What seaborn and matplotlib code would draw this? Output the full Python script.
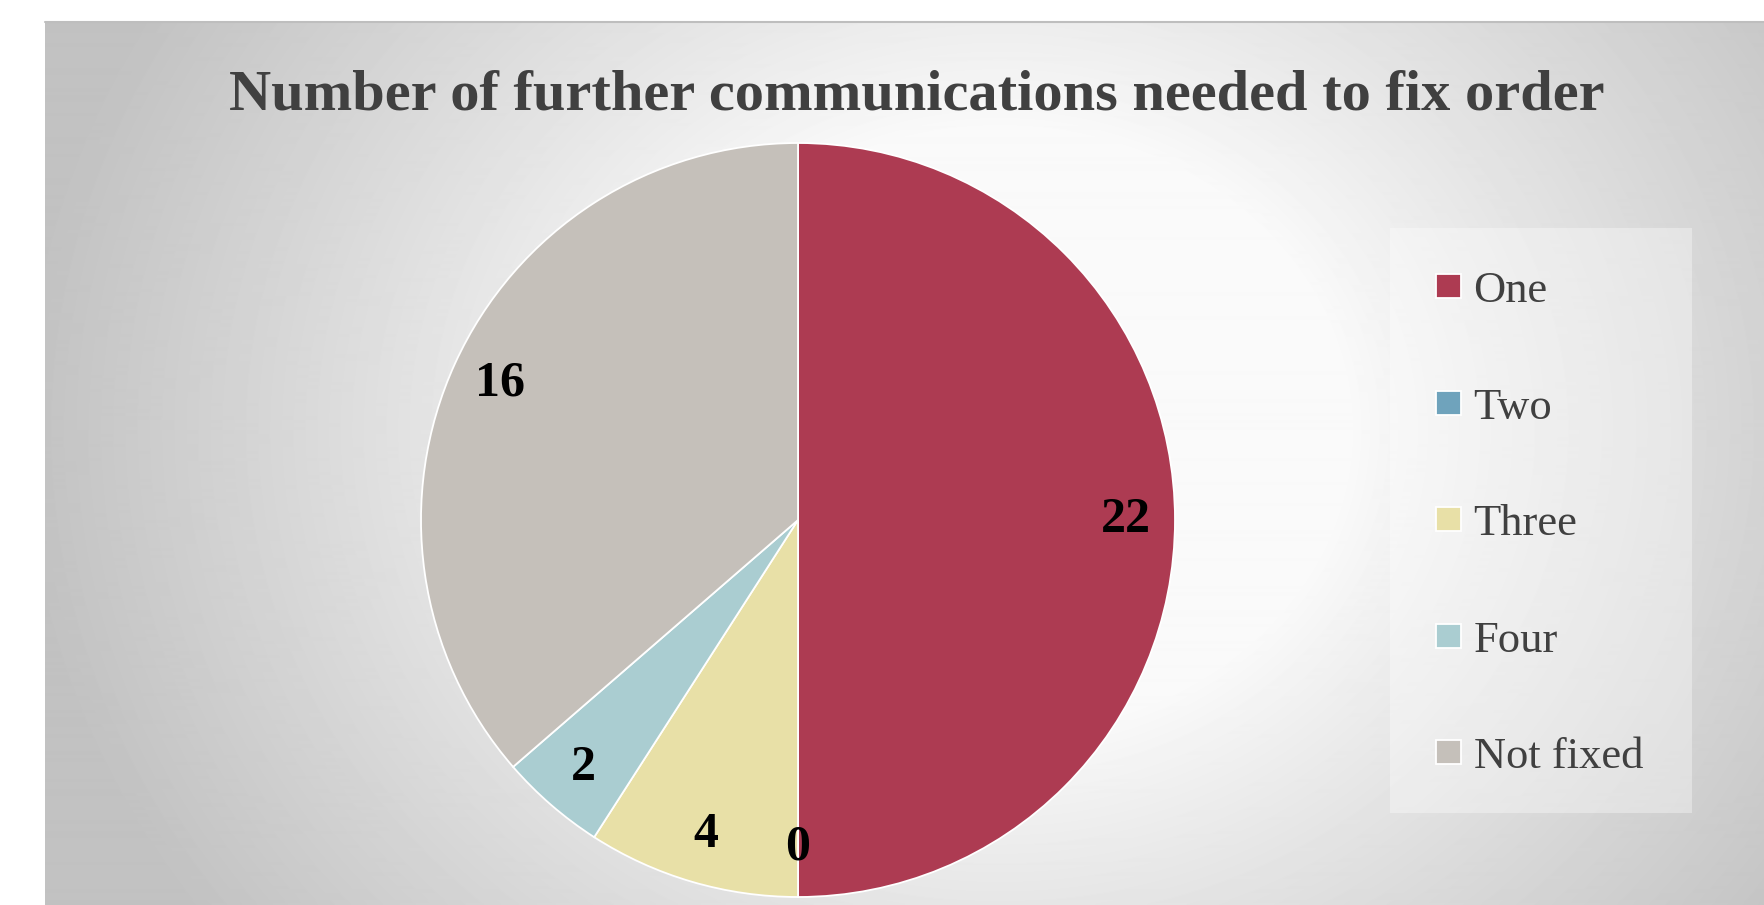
import numpy as np
import matplotlib
matplotlib.use("Agg")
import matplotlib.pyplot as plt
import seaborn as sns
from matplotlib.patches import Rectangle

# ---- data ----
categories = ["One", "Two", "Three", "Four", "Not fixed"]
counts = [22, 0, 4, 2, 16]
title = "Number of further communications needed to fix order"
slice_colors = ["#AD3B52", "#6FA3BC", "#E8E0A7", "#AACDD1", "#C5C0BA"]

sns.set_theme(style="white")
plt.rcParams["font.family"] = ["Liberation Serif", "DejaVu Serif"]

W, H = 1765, 905
fig = plt.figure(figsize=(W / 100, H / 100), dpi=100)
fig.patch.set_facecolor("white")

# ---- background gradient ----
bx0, by0 = 45, 22
bg = fig.add_axes([bx0 / W, 0, 1 - bx0 / W, (H - by0) / H])
yy, xx = np.mgrid[by0:H, bx0:W]
d = np.hypot((xx - 1000) * 0.95, (yy - 430) * 1.1)
t = np.clip((d - 330) / 600, 0, 1) ** 0.9
val = 0.98 - t * 0.22
bg.imshow(val, cmap="gray", vmin=0, vmax=1, aspect="auto",
          extent=(bx0, W, H, by0), interpolation="bilinear")
bg.set_xlim(bx0, W)
bg.set_ylim(H, by0)
bg.axis("off")
fig.add_artist(plt.Line2D([bx0 / W, 1], [1 - by0 / H, 1 - by0 / H],
                          transform=fig.transFigure, color="#BEBEBE", lw=1.5))

# ---- pie ----
cx, cy, r = 798, 520, 377
ax = fig.add_axes([(cx - r) / W, (H - cy - r) / H, 2 * r / W, 2 * r / H])
palette = sns.color_palette(slice_colors)
total = sum(counts)
wedges, texts, autotexts = ax.pie(
    counts, colors=palette, startangle=90, counterclock=False,
    autopct=lambda p: f"{int(round(p * total / 100))}", pctdistance=0.87,
    wedgeprops=dict(edgecolor="white", linewidth=1.3),
    textprops=dict(fontsize=36, fontweight="bold", color="black"))
for t_ in autotexts:
    t_.set_va("center")
    t_.set_ha("center")
ax.set_xlim(-1, 1)
ax.set_ylim(-1, 1)
ax.set_aspect("equal")
ax.axis("off")

# ---- title ----
fig.text(917 / W, 1 - 95 / H, title, ha="center", va="center",
         fontsize=42, fontweight="bold", color="#404040")

# ---- legend ----
lx0, lx1, ly0, ly1 = 1390, 1692, 228, 813
fig.add_artist(Rectangle((lx0 / W, 1 - ly1 / H), (lx1 - lx0) / W, (ly1 - ly0) / H,
                         transform=fig.transFigure, facecolor="white",
                         alpha=0.35, edgecolor="none", zorder=1))
leg = fig.legend(wedges, categories, loc="upper left",
                 bbox_to_anchor=(1414 / W, 1 - 249 / H), frameon=False,
                 fontsize=32, handlelength=0.56, handleheight=0.45,
                 handletextpad=0.28, labelspacing=1.72, borderpad=0)
for txt in leg.get_texts():
    txt.set_color("#404040")

fig.savefig("out.png", dpi=100)
